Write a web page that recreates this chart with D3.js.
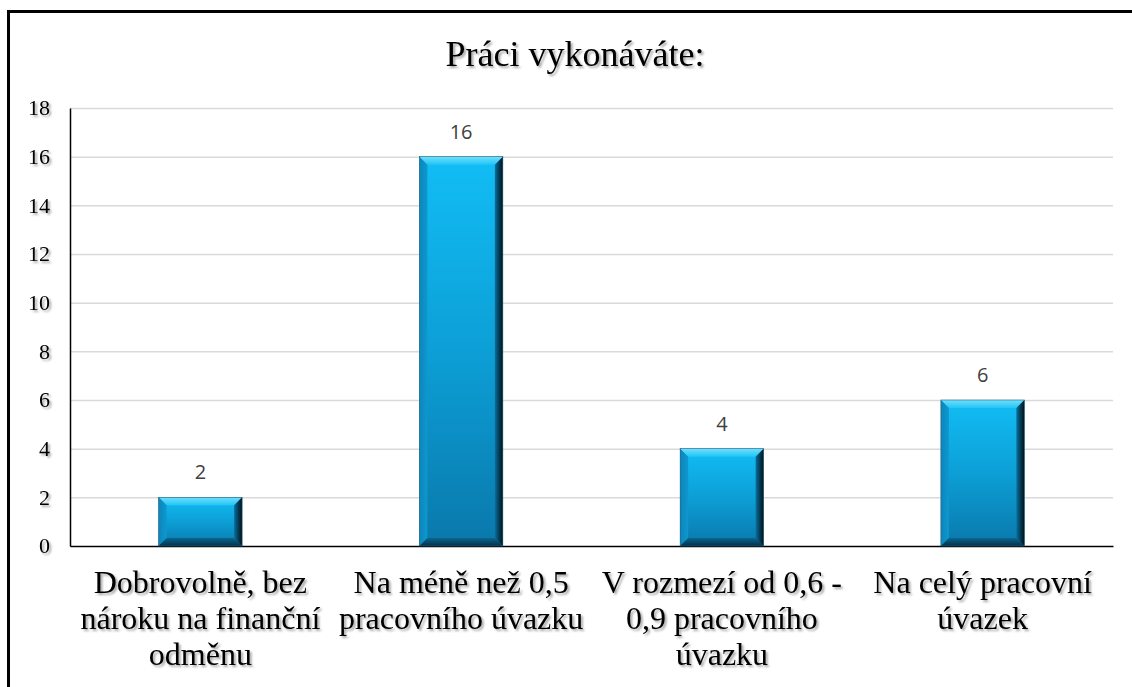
<!DOCTYPE html>
<html>
  <head>
    <meta charset="utf-8">
    <title>Práci vykonáváte</title>
    <style>
      body { margin: 0; background: #fff; }
      svg { display: block; }
      .grid line { stroke: #d9d9d9; stroke-width: 1.5px; }
      .grid .domain { display: none; }
      .vlabel { font-family: "Open Sans", "Liberation Sans", sans-serif; font-size: 20px; fill: #404040; }
      .serif { font-family: "Liberation Serif", serif; fill: #000; }
    </style>
  </head>
  <body>
    <svg width="1132" height="687"></svg>
    <script src="https://d3js.org/d3.v7.min.js"></script>
    <script>
      // chart data
      const categories = ["dobrovolne", "mene05", "rozmezi", "cely"];
      const labelLines = [
        ["Dobrovolně, bez", "nároku na finanční", "odměnu"],
        ["Na méně než 0,5", "pracovního úvazku"],
        ["V rozmezí od 0,6 -", "0,9 pracovního", "úvazku"],
        ["Na celý pracovní", "úvazek"]
      ];
      const values = [2, 16, 4, 6];
      const yTicks = [0, 2, 4, 6, 8, 10, 12, 14, 16, 18];
      const title = "Práci vykonáváte:";

      const svg = d3.select("svg");
      const defs = svg.append("defs");

      // soft shadow used on the serif texts
      const shadow = defs.append("filter").attr("id", "txtShadow")
        .attr("x", "-10%").attr("y", "-10%").attr("width", "130%").attr("height", "140%");
      shadow.append("feDropShadow")
        .attr("dx", 2).attr("dy", 2).attr("stdDeviation", 1.2)
        .attr("flood-color", "#000").attr("flood-opacity", 0.35);

      // gradients for the bevelled bars
      function grad(id, x2, y2, stops) {
        const g = defs.append("linearGradient").attr("id", id)
          .attr("x1", 0).attr("y1", 0).attr("x2", x2).attr("y2", y2);
        stops.forEach(s => g.append("stop").attr("offset", s[0]).attr("stop-color", s[1]));
      }
      grad("body", 0, 1, [[0, "#12bdf5"], [0.5, "#0c9fd6"], [1, "#0a78ab"]]);
      grad("bevTop", 0, 1, [[0, "#6ee0fd"], [1, "#22c4f6"]]);
      grad("bevRight", 1, 0, [[0, "#0a6f9e"], [0.55, "#033a52"], [1, "#00121a"]]);
      grad("bevBottom", 0, 1, [[0, "#0a6690"], [1, "#04324a"]]);
      grad("bevLeft", 1, 0, [[0, "#0b86bb"], [1, "#0e98cf"]]);

      const margin = { left: 70, right: 19, top: 108, bottom: 141 };
      const width = 1132 - margin.left - margin.right;
      const height = 687 - margin.top - margin.bottom;

      const x = d3.scaleBand().domain(categories).range([0, width]).paddingInner(0.68).paddingOuter(0.34);
      const y = d3.scaleLinear().domain([0, 18]).range([height, 0]);

      // outer chart border (cut off on the right and bottom)
      svg.append("path")
        .attr("d", "M8.5,687 L8.5,11.5 L1132,11.5")
        .attr("fill", "none").attr("stroke", "#000").attr("stroke-width", 3);

      svg.append("text").attr("class", "serif")
        .attr("x", 575).attr("y", 66)
        .attr("text-anchor", "middle")
        .attr("font-size", 36)
        .attr("filter", "url(#txtShadow)")
        .text(title);

      const g = svg.append("g").attr("transform", `translate(${margin.left},${margin.top})`);

      g.append("g").attr("class", "grid")
        .call(d3.axisLeft(y).tickValues(yTicks.filter(d => d > 0)).tickSize(-width).tickFormat(""));

      // axis lines
      g.append("g")
        .call(d3.axisLeft(y).tickValues([]).tickSizeOuter(0))
        .select(".domain").attr("stroke", "#000").attr("stroke-width", 1.5);
      g.append("g").attr("transform", `translate(0,${height})`)
        .call(d3.axisBottom(x).tickValues([]).tickSizeOuter(0))
        .select(".domain").attr("stroke", "#000").attr("stroke-width", 1.5);

      // y tick labels
      g.selectAll(".ylab").data(yTicks).join("text")
        .attr("class", "serif ylab")
        .attr("x", -20).attr("y", d => y(d))
        .attr("dy", "0.34em")
        .attr("text-anchor", "end")
        .attr("font-size", 22)
        .attr("filter", "url(#txtShadow)")
        .text(d => d);

      // bars
      const b = 8;
      const bars = g.selectAll(".bar").data(values).join("g").attr("class", "bar");
      bars.each(function(v, i) {
        const x0 = x(categories[i]), x1 = x0 + x.bandwidth();
        const y0 = y(v), y1 = y(0);
        const el = d3.select(this);
        el.append("rect").attr("x", x0).attr("y", y0).attr("width", x1 - x0).attr("height", y1 - y0)
          .attr("fill", "url(#body)");
        const poly = (pts, fill) => el.append("polygon")
          .attr("points", pts.map(p => p.join(",")).join(" ")).attr("fill", fill);
        poly([[x0, y0], [x1, y0], [x1 - b, y0 + b], [x0 + b, y0 + b]], "url(#bevTop)");
        poly([[x0, y0], [x0 + b, y0 + b], [x0 + b, y1 - b], [x0, y1]], "url(#bevLeft)");
        poly([[x0, y1], [x1, y1], [x1 - b, y1 - b], [x0 + b, y1 - b]], "url(#bevBottom)");
        poly([[x1, y0], [x1, y1], [x1 - b, y1 - b], [x1 - b, y0 + b]], "url(#bevRight)");
        el.append("rect").attr("x", x0).attr("y", y0).attr("width", x1 - x0).attr("height", y1 - y0)
          .attr("fill", "none").attr("stroke", "#2b5f78").attr("stroke-width", 0.6);
      });

      // value labels
      g.selectAll(".vlabel").data(values).join("text")
        .attr("class", "vlabel")
        .attr("x", (d, i) => x(categories[i]) + x.bandwidth() / 2)
        .attr("y", d => y(d) - 18)
        .attr("text-anchor", "middle")
        .text(d => d);

      // category labels, one line per tspan
      const cat = g.selectAll(".xlab").data(categories).join("text")
        .attr("class", "serif xlab")
        .attr("font-size", 32)
        .attr("text-anchor", "middle")
        .attr("filter", "url(#txtShadow)");
      cat.each(function(c, i) {
        const cx = x(c) + x.bandwidth() / 2;
        labelLines[i].forEach((line, k) => {
          d3.select(this).append("tspan").attr("x", cx).attr("y", height + 47 + k * 36).text(line);
        });
      });
    </script>
  </body>
</html>
